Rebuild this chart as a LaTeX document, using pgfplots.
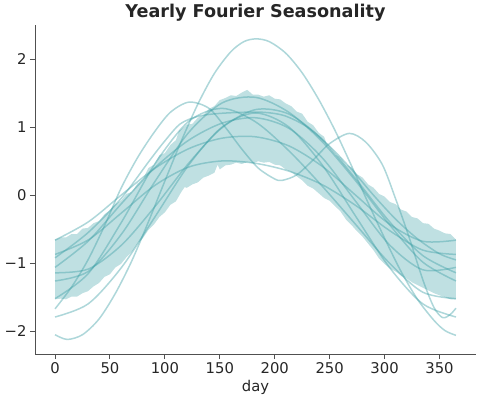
\documentclass[border=0pt]{standalone}
\usepackage{fontspec}
\setmainfont{DejaVu Sans}
\usepackage{pgfplots}
\pgfplotsset{compat=1.18}
\usepgfplotslibrary{fillbetween}
\definecolor{band}{RGB}{62,160,166}
\definecolor{spine}{RGB}{80,80,80}
\definecolor{txt}{RGB}{38,38,38}
\pgfplotsset{fline/.style={draw=band, draw opacity=0.42, line width=1.5bp, smooth, mark=none}}
\begin{document}
\begin{tikzpicture}
\begin{axis}[
  at={(0,0)}, anchor=south west,
  scale only axis, width=441bp, height=329bp,
  xmin=-18.25, xmax=383.25, ymin=-2.334, ymax=2.504,
  axis x line*=bottom, axis y line*=left,
  axis line style={spine, line width=1bp},
  xtick={0,50,100,150,200,250,300,350},
  xticklabels={0,50,100,150,200,250,300,350},
  ytick={-2,-1,0,1,2},
  yticklabels={−2,−1,0,1,2},
  tick align=outside, major tick length=5bp,
  tick style={spine, line width=1bp},
  ticklabel style={font=\fontsize{14.8bp}{17bp}\selectfont, text=txt},
  xlabel={day}, xlabel style={font=\fontsize{14.8bp}{17bp}\selectfont, text=txt},
  title={Yearly Fourier Seasonality},
  title style={font=\bfseries\fontsize{17.6bp}{20bp}\selectfont, text=txt, yshift=-6bp},
]
\addplot[draw=none, mark=none, name path=upper] coordinates {
(0,-0.65) (5,-0.62) (10,-0.62) (15,-0.57) (20,-0.57) (25,-0.49) (30,-0.48) (35,-0.41) (40,-0.38) (45,-0.28)
(50,-0.22) (55,-0.13) (60,-0.08) (65,0.02) (70,0.05) (75,0.17) (80,0.24) (85,0.40) (90,0.45) (95,0.59)
(100,0.62) (105,0.74) (110,0.81) (113,0.95) (115,0.97) (120,1.04) (125,1.05) (130,1.14) (135,1.18) (140,1.27)
(145,1.31) (150,1.40) (155,1.43) (160,1.47) (165,1.46) (170,1.51) (175,1.55) (180,1.48) (185,1.48) (190,1.45)
(195,1.47) (200,1.42) (205,1.41) (210,1.35) (215,1.31) (220,1.23) (225,1.20) (230,1.08) (235,1.03) (240,0.92)
(245,0.86) (248,0.72) (250,0.70) (255,0.60) (260,0.56) (265,0.45) (270,0.41) (275,0.31) (280,0.26) (285,0.16)
(290,0.11) (295,0.02) (300,-0.02) (305,-0.10) (310,-0.13) (315,-0.21) (320,-0.24) (325,-0.32) (330,-0.34) (335,-0.41)
(340,-0.42) (345,-0.49) (350,-0.52) (355,-0.56) (360,-0.57) (365,-0.65)
};
\addplot[draw=none, mark=none, name path=lower] coordinates {
(0,-1.53) (5,-1.52) (10,-1.53) (15,-1.49) (20,-1.49) (25,-1.44) (30,-1.41) (35,-1.34) (40,-1.29) (45,-1.20)
(50,-1.16) (55,-1.06) (60,-1.01) (65,-0.91) (70,-0.83) (75,-0.71) (80,-0.63) (85,-0.51) (90,-0.43) (95,-0.32)
(100,-0.25) (105,-0.14) (110,-0.09) (115,0.05) (118,0.12) (120,0.11) (125,0.16) (130,0.19) (135,0.26) (140,0.29)
(145,0.33) (148,0.45) (150,0.38) (155,0.44) (160,0.45) (165,0.48) (170,0.46) (175,0.49) (180,0.47) (185,0.50)
(190,0.48) (195,0.49) (200,0.45) (205,0.44) (210,0.38) (215,0.34) (220,0.28) (225,0.22) (230,0.14) (235,0.10)
(240,0.03) (245,-0.04) (250,-0.08) (255,-0.16) (260,-0.24) (265,-0.36) (270,-0.44) (275,-0.53) (280,-0.61) (285,-0.71)
(290,-0.81) (295,-0.93) (300,-1.01) (305,-1.08) (310,-1.12) (315,-1.18) (320,-1.22) (325,-1.28) (330,-1.32) (335,-1.36)
(340,-1.40) (345,-1.44) (350,-1.47) (355,-1.50) (360,-1.53) (365,-1.53)
};
\addplot[fill=band, fill opacity=0.33, draw=none] fill between[of=upper and lower];
% c1
\addplot[fline] coordinates {(0,-0.66) (30.4,-0.39) (60.8,0.01) (91.25,0.40) (121.7,0.685) (152.1,0.84) (182.5,0.86) (212.9,0.726) (243.3,0.425) (273.75,0.0) (304.2,-0.421) (334.6,-0.676) (365,-0.66)};
% c2
\addplot[fline] coordinates {(0,-0.87) (30.4,-0.655) (60.8,-0.255) (91.25,0.15) (121.7,0.415) (152.1,0.505) (182.5,0.47) (212.9,0.355) (243.3,0.155) (273.75,-0.15) (304.2,-0.515) (334.6,-0.805) (365,-0.87)};
% D
\addplot[fline] coordinates {(0,-0.92) (30,-0.55) (60,-0.05) (86,0.51) (100,0.80) (114,1.05) (130,1.16) (147,1.20) (170,1.22) (190,1.22) (209,1.17) (230,1.00) (250,0.72) (270,0.38) (290,0.0) (310,-0.35) (330,-0.64) (350,-0.86) (365,-0.95)};
% c3
\addplot[fline] coordinates {(0,-1.06) (30.4,-0.671) (60.8,-0.116) (91.25,0.41) (121.7,0.81) (152.1,1.061) (182.5,1.14) (212.9,0.985) (243.3,0.55) (273.75,-0.09) (304.2,-0.724) (334.6,-1.095) (365,-1.06)};
% c4
\addplot[fline] coordinates {(0,-1.14) (30.4,-1.084) (60.8,-0.728) (91.25,-0.16) (121.7,0.472) (152.1,0.994) (182.5,1.26) (212.9,1.194) (243.3,0.818) (273.75,0.24) (304.2,-0.382) (334.6,-0.884) (365,-1.14)};
% c5
\addplot[fline] coordinates {(0,-1.26) (30.4,-1.118) (60.8,-0.564) (91.25,0.21) (121.7,0.924) (152.1,1.358) (182.5,1.44) (212.9,1.22) (243.3,0.786) (273.75,0.21) (304.2,-0.426) (334.6,-0.98) (365,-1.26)};
% c6
\addplot[fline] coordinates {(0,-1.52) (30.4,-1.148) (60.8,-0.387) (91.25,0.47) (121.7,1.087) (152.1,1.278) (182.5,1.08) (212.9,0.654) (243.3,0.133) (273.75,-0.43) (304.2,-0.993) (334.6,-1.424) (365,-1.52)};
% B
\addplot[fline] coordinates {(0,-1.67) (15,-1.35) (30,-0.95) (45,-0.45) (60,0.10) (75,0.55) (90,0.92) (105,1.22) (122,1.37) (140,1.28) (155,1.00) (170,0.68) (185,0.40) (200,0.24) (207,0.22) (220,0.30) (235,0.52) (250,0.76) (268,0.91) (283,0.78) (298,0.45) (310,-0.05) (322,-0.60) (335,-1.25) (345,-1.65) (353,-1.80) (360,-1.75) (365,-1.66)};
% C
\addplot[fline] coordinates {(0,-1.79) (30.4,-1.594) (60.8,-1.055) (91.25,-0.31) (121.7,0.445) (152.1,1.004) (182.5,1.21) (212.9,1.004) (243.3,0.445) (273.75,-0.31) (304.2,-1.055) (334.6,-1.594) (365,-1.79)};
% A
\addplot[fline] coordinates {(0,-2.05) (11,-2.12) (25,-2.05) (40,-1.82) (55,-1.44) (70,-0.96) (85,-0.39) (100,0.21) (115,0.80) (130,1.34) (145,1.79) (160,2.11) (172,2.26) (183,2.30) (195,2.26) (210,2.09) (225,1.80) (240,1.41) (255,0.95) (270,0.43) (285,-0.11) (300,-0.63) (315,-1.12) (330,-1.53) (345,-1.84) (355,-1.99) (365,-2.06)};
\end{axis}
\path (-35bp,-46bp) rectangle (445bp,354bp);
\end{tikzpicture}
\end{document}
